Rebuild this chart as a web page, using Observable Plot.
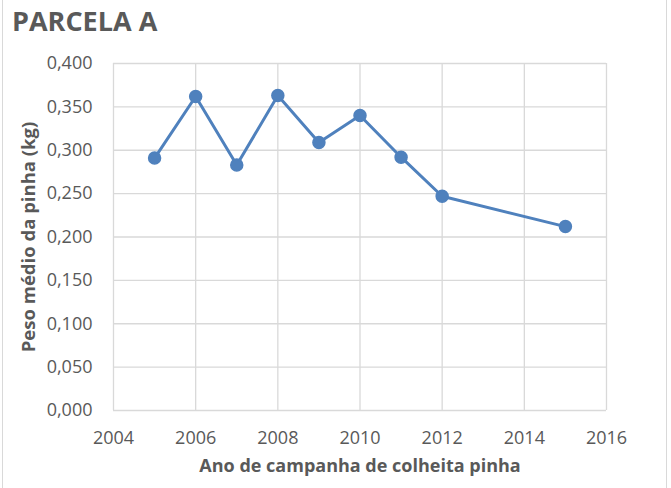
<!DOCTYPE html>
<html>
<head>
<meta charset="utf-8">
<script src="https://cdn.jsdelivr.net/npm/d3@7"></script>
<script src="https://cdn.jsdelivr.net/npm/@observablehq/plot@0.6"></script>
<style>
  html, body { margin: 0; padding: 0; background: #fff; }
  #wrap { position: relative; width: 671px; height: 488px; font-family: "Open Sans", sans-serif; }
  #frame { position: absolute; left: 2px; top: -2px; width: 665px; height: 492px; border: 1px solid #d9d9d9; box-sizing: border-box; pointer-events: none; }
  #title { position: absolute; left: 12px; top: 2px; font-size: 27px; font-weight: bold; color: #595959; }
  #chart { position: absolute; left: 0; top: 0; }
  #chart svg g[aria-label="x-axis tick label"] text,
  #chart svg g[aria-label="y-axis tick label"] text { font-size: 18px; }
</style>
</head>
<body>
<div id="wrap">
  <div id="chart"></div>
  <div id="frame"></div>
  <div id="title">PARCELA A</div>
</div>
<script>
const years = [2005, 2006, 2007, 2008, 2009, 2010, 2011, 2012, 2015];
const weights = [0.291, 0.362, 0.283, 0.363, 0.309, 0.340, 0.292, 0.247, 0.212];
const xTicks = [2004, 2006, 2008, 2010, 2012, 2014, 2016];
const yTicks = [0, 0.05, 0.1, 0.15, 0.2, 0.25, 0.3, 0.35, 0.4];
const titleText = "PARCELA A";
const xLabel = "Ano de campanha de colheita pinha";
const yLabel = "Peso médio da pinha (kg)";

const data = years.map((y, i) => ({year: y, w: weights[i]}));
const fmt = v => d3.format(".3f")(v).replace(".", ",");
const blue = "#4f81bd";
const grid = "#d9d9d9";

const chart = Plot.plot({
  width: 671,
  height: 488,
  marginLeft: 113,
  marginRight: 65,
  marginTop: 63,
  marginBottom: 78,
  style: {fontFamily: "Open Sans, sans-serif", fontSize: "18px", color: "#595959", background: "transparent"},
  x: {domain: [2004, 2016], ticks: xTicks, tickFormat: d => String(d)},
  y: {domain: [0, 0.4], ticks: yTicks, tickFormat: fmt},
  marks: [
    Plot.gridX(xTicks, {stroke: grid, strokeOpacity: 1, strokeWidth: 1.3}),
    Plot.gridY(yTicks, {stroke: grid, strokeOpacity: 1, strokeWidth: 1.3}),
    Plot.axisX(xTicks, {tickSize: 0, tickPadding: 21, tickFormat: d => String(d), fill: "#595959", label: null}),
    Plot.axisY(yTicks, {tickSize: 0, tickPadding: 21, tickFormat: fmt, fill: "#595959", label: null}),
    Plot.text([xLabel], {frameAnchor: "bottom", dy: 61, fontSize: 18, fontWeight: "bold", fill: "#595959"}),
    Plot.text([yLabel], {frameAnchor: "left", textAnchor: "middle", dx: -84, rotate: -90, fontSize: 18.5, fontWeight: "bold", fill: "#595959"}),
    Plot.line(data, {x: "year", y: "w", stroke: blue, strokeWidth: 3}),
    Plot.dot(data, {x: "year", y: "w", r: 6, fill: blue, stroke: blue})
  ]
});
document.getElementById("chart").appendChild(chart);
</script>
</body>
</html>
